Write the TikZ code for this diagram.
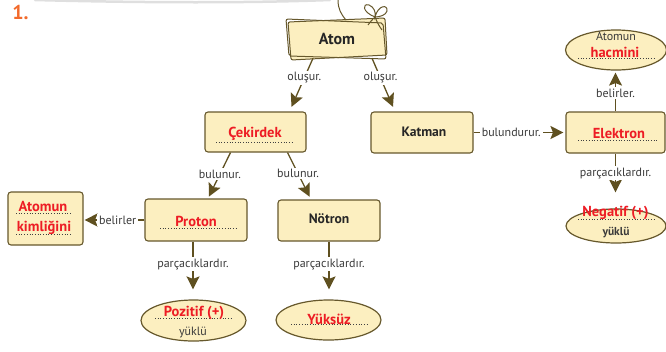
\documentclass[tikz,border=0pt]{standalone}
\usepackage{fontspec}
\setmainfont{PT Sans}
\usetikzlibrary{arrows.meta,shapes.geometric}

\definecolor{boxfill}{HTML}{FCEFC0}
\definecolor{boxline}{HTML}{66582C}
\definecolor{arrowc}{HTML}{5F5020}
\definecolor{redtxt}{HTML}{ED1C24}
\definecolor{lbltxt}{HTML}{3A3A3A}
\definecolor{numc}{HTML}{F26A2B}

\tikzset{
  cbox/.style={draw=boxline, line width=1.1pt, fill=boxfill, rounded corners=3pt, inner sep=0pt},
  coval/.style={ellipse, draw=boxline, line width=1.2pt, fill=boxfill, inner sep=0pt},
  arr/.style={draw=arrowc, line width=1.3pt, -{Stealth[length=13pt,width=13pt,inset=2.5pt]}},
  lbl/.style={font=\fontsize{12}{13}\selectfont, text=lbltxt, fill=white, inner xsep=2pt, inner ysep=1.5pt},
  redword/.style={font=\fontsize{14.5}{16}\selectfont\bfseries, text=redtxt, inner sep=0pt},
  blackword/.style={font=\fontsize{13.6}{15}\selectfont\bfseries, text=black!85, inner sep=0pt},
  smallword/.style={font=\fontsize{12}{13}\selectfont, text=lbltxt, inner sep=0pt},
  dotline/.style={draw=black!75, line width=0.8pt, dash pattern=on 0.7pt off 2pt},
}

\begin{document}
\begin{tikzpicture}[x=1pt,y=-1pt]
\useasboundingbox (0,0) rectangle (666,351);

% faint shading along the top edge
\draw[gray!25, line width=2.5pt, line cap=round] (35,0) .. controls (150,3) and (250,3) .. (330,0);

% exercise number
\node[font=\fontsize{20}{22}\selectfont\bfseries, text=numc, inner sep=0pt] (num) at (20.5,12) {1.};

% ---------- Atom: sketched double frame with a bow ----------
\draw[boxline, line width=1pt, fill=boxfill, rounded corners=2pt]
  (288,22) -- (385,18) -- (387,55) -- (291,60) -- cycle;
\draw[boxline, line width=1pt, rounded corners=2pt]
  (286,19) -- (383,23) -- (386,59) -- (289,56) -- cycle;
% string and bow
\draw[boxline, line width=1pt] (338,0) .. controls (338,9) and (341,14) .. (346,20);
\draw[boxline, line width=1pt]
  (375,17) .. controls (362,12) and (362,3) .. (369,5) .. controls (374,7) and (376,12) .. (375,17)
  .. controls (378,5) and (388,4) .. (387,11) .. controls (386,15) and (380,17) .. (375,17);
\draw[boxline, line width=1pt] (375,17) .. controls (377,22) and (379,26) .. (382,30);
\draw[boxline, line width=1pt] (375,17) .. controls (372,20) and (370,22) .. (368,25);
\node[font=\fontsize{16}{18}\selectfont\bfseries, text=black!85, minimum width=96pt, minimum height=38pt, inner sep=0pt] (atom) at (337,39) {Atom};

% ---------- boxes ----------
\node[cbox, minimum width=101pt, minimum height=40pt] (cek) at (255.5,132) {};
\node[cbox, minimum width=102pt, minimum height=41pt] (katman) at (422,132.5) {};
\node[cbox, minimum width=99pt, minimum height=41pt] (elek) at (615.5,132.5) {};
\node[cbox, minimum width=102pt, minimum height=42pt] (proton) at (196,220) {};
\node[cbox, minimum width=75pt, minimum height=53pt] (kimlik) at (45.5,218.5) {};
\node[cbox, minimum width=102pt, minimum height=41pt] (notron) at (329,220.5) {};

% ---------- ovals ----------
\node[coval, minimum width=101pt, minimum height=40pt] (hacim) at (616,50) {};
\node[coval, minimum width=100pt, minimum height=34pt] (negatif) at (616,226) {};
\node[coval, minimum width=105pt, minimum height=41pt] (pozitif) at (193.5,320.5) {};
\node[coval, minimum width=105pt, minimum height=40pt] (yuksuz) at (328.5,320) {};

% ---------- fill-in lines and answers ----------
\draw[dotline] (216,142) -- (294,142);
\node[redword] (tcek) at (255,134) {Çekirdek};

\node[blackword] (tkat) at (424,132) {Katman};

\draw[dotline] (578,140) -- (657,140);
\node[redword] (telek) at (619,134) {Elektron};

\draw[dotline] (160,228) -- (237,228);
\node[redword] (tpro) at (196,221) {Proton};

\node[blackword] (tnot) at (329,219) {Nötron};

\draw[dotline] (16,213) -- (72,213);
\node[redword] (tkim1) at (43,206) {Atomun};
\draw[dotline] (16,234) -- (72,234);
\node[redword] (tkim2) at (44,228) {kimliğini};

\node[smallword] (thac1) at (616,36) {Atomun};
\draw[dotline] (578,58) -- (655,58);
\node[redword] (thac2) at (615,52) {hacmini};

\draw[dotline] (578,219) -- (655,219);
\node[redword] (tneg1) at (615.5,213) {Negatif (+)};
\node[smallword, font=\fontsize{11.5}{12}\selectfont\bfseries] (tneg2) at (616,233) {yüklü};

\draw[dotline] (155,318) -- (233,318);
\node[redword] (tpoz1) at (194,313) {Pozitif (+)};
\node[smallword] (tpoz2) at (193,332) {yüklü};

\draw[dotline] (291,324) -- (368,324);
\node[redword] (tyuk) at (329,319) {Yüksüz};

% ---------- connectors ----------
\draw[arr, shorten >=5pt] ([xshift=-24pt]atom.south) -- node[lbl, pos=0.37] {oluşur.} ([xshift=34pt]cek.north);
\draw[arr, shorten >=5pt] ([xshift=35pt]atom.south) -- node[lbl, pos=0.37] {oluşur.} ([xshift=-27pt]katman.north);
\draw[arr, shorten >=2pt] ([xshift=-25pt]cek.south) -- node[lbl, pos=0.47] {bulunur.} ([xshift=12pt]proton.north);
\draw[arr, shorten >=3pt] ([xshift=32pt]cek.south) -- node[lbl, pos=0.45] {bulunur.} ([xshift=-18pt]notron.north);
\draw[arr, shorten >=2pt] (katman.east) -- node[lbl, pos=0.41] {bulundurur.} (elek.west);
\draw[arr, shorten >=2pt] (elek.north) -- node[lbl, pos=0.45] {belirler.} (elek.north |- hacim.south);
\draw[arr, shorten >=16pt] (elek.south) -- node[lbl, pos=0.36] {parçacıklardır.} (elek.south |- negatif.north);
\draw[arr, shorten >=1pt] (proton.west) -- node[lbl, pos=0.44] {belirler} (proton.west -| kimlik.east);
\draw[arr, shorten >=10pt] ([xshift=-3pt]proton.south) -- node[lbl, pos=0.39] {parçacıklardır.} ([xshift=-3pt]proton.south |- pozitif.north);
\draw[arr, shorten >=10pt] (notron.south) -- node[lbl, pos=0.39] {parçacıklardır.} (notron.south |- yuksuz.north);

\end{tikzpicture}
\end{document}
